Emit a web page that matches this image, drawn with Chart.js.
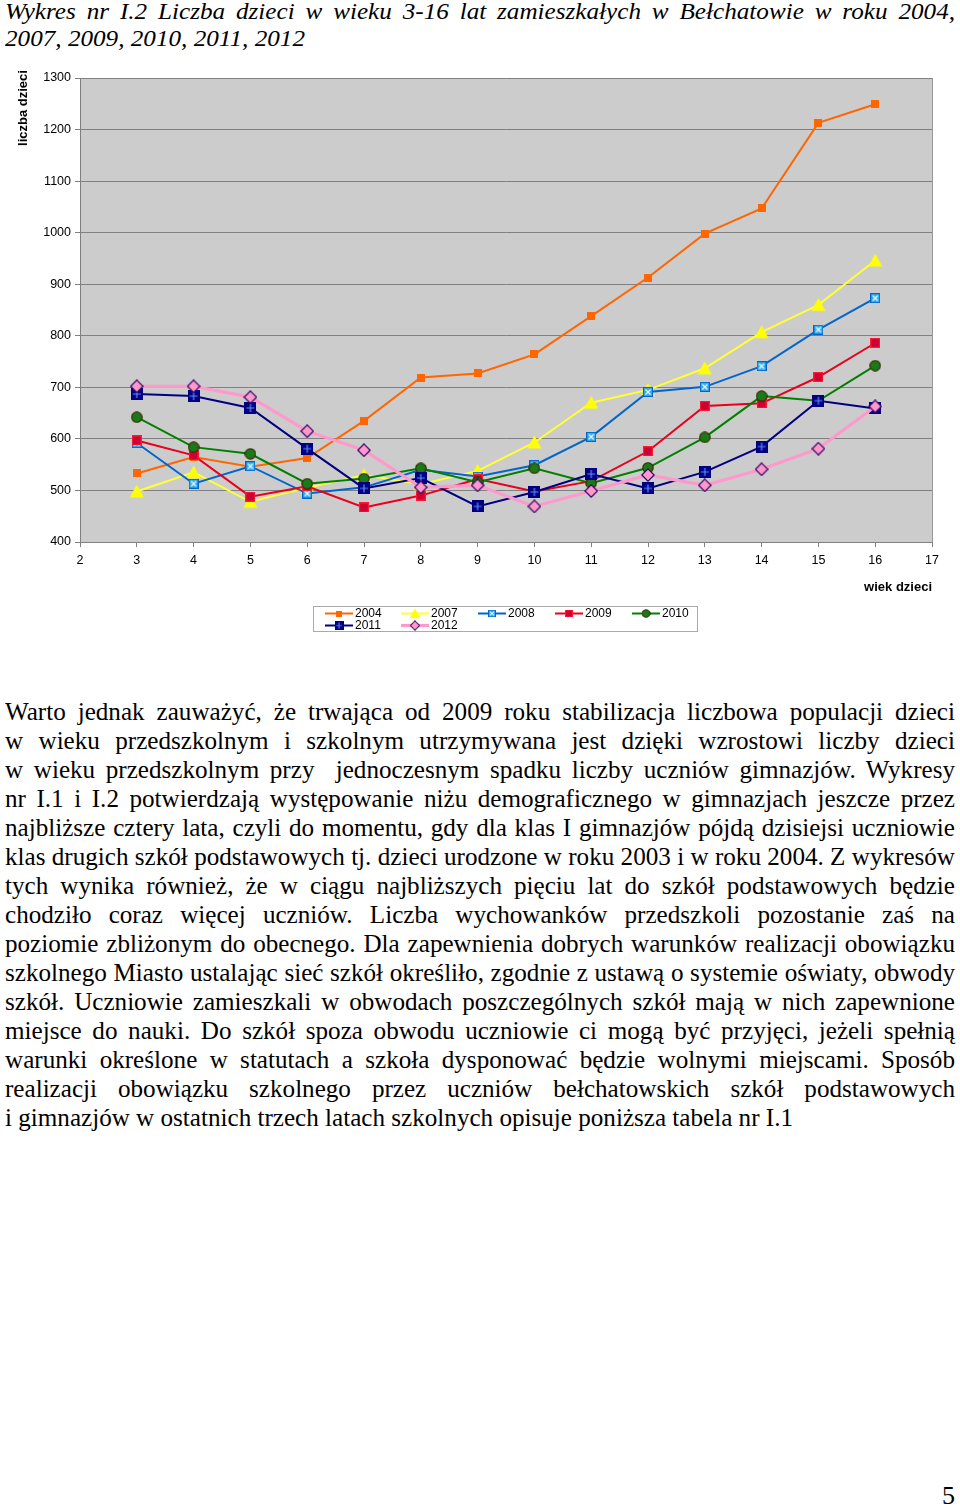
<!DOCTYPE html>
<html>
<head>
<meta charset="utf-8">
<script src="https://cdn.jsdelivr.net/npm/chart.js@4.4.1/dist/chart.umd.min.js"></script>
<style>
html,body{margin:0;padding:0;background:#fff;}
body{width:960px;height:1509px;position:relative;overflow:hidden;}
.ln{position:absolute;left:5px;white-space:nowrap;transform-origin:0 0;font-family:"Liberation Serif","Times New Roman",serif;color:#000;}
.t{font-style:italic;font-size:24px;line-height:27px;}
.p{font-size:26px;line-height:29px;}
#wrap{position:absolute;left:0;top:60px;width:960px;height:590px;}
#pg{position:absolute;right:5px;top:1481px;font-family:"Liberation Serif","Times New Roman",serif;font-size:26px;line-height:29px;}
</style>
</head>
<body>
<div id="title"></div>
<div id="wrap"><canvas id="c" width="960" height="590"></canvas></div>
<div id="para"></div>
<div id="pg">5</div>
<script>
// ---------------- DATA ----------------
const ages = [3,4,5,6,7,8,9,10,11,12,13,14,15,16];
const xTickLabels = [2,3,4,5,6,7,8,9,10,11,12,13,14,15,16,17];
const yTickLabels = [400,500,600,700,800,900,1000,1100,1200,1300];
const seriesNames = ['2004','2007','2008','2009','2010','2011','2012'];
const y2004 = [533,565,546,563,635,719,727,764,838,913,998,1047,1213,1249];
const y2007 = [498,535,478,505,530,512,538,593,670,695,737,807,860,946];
const y2008 = [592,513,547,494,506,540,527,549,604,691,701,741,812,873];
const y2009 = [597,568,488,508,467,490,522,498,518,576,664,669,720,786];
const y2010 = [642,584,571,513,523,543,516,543,514,544,603,683,674,742];
const y2011 = [687,683,660,581,504,524,469,497,532,504,536,585,674,659];
const y2012 = [702,702,681,615,578,506,510,469,499,530,510,541,581,663];
const allSeries = [y2004,y2007,y2008,y2009,y2010,y2011,y2012];
const yTitle = 'liczba dzieci';
const xTitle = 'wiek dzieci';

// ---------------- TEXT ----------------
const titleLines = [
 'Wykres nr I.2 Liczba dzieci w wieku 3-16 lat zamieszkałych w Bełchatowie w roku 2004,',
 '2007, 2009, 2010, 2011, 2012'
];
const paraLines = [
 'Warto jednak zauważyć, że trwająca od 2009 roku stabilizacja liczbowa populacji dzieci',
 'w wieku przedszkolnym i szkolnym utrzymywana jest dzięki wzrostowi liczby dzieci',
 'w wieku przedszkolnym przy  jednoczesnym spadku liczby uczniów gimnazjów. Wykresy',
 'nr I.1 i I.2 potwierdzają występowanie niżu demograficznego w gimnazjach jeszcze przez',
 'najbliższe cztery lata, czyli do momentu, gdy dla klas I gimnazjów pójdą dzisiejsi uczniowie',
 'klas drugich szkół podstawowych tj. dzieci urodzone w roku 2003 i w roku 2004. Z wykresów',
 'tych wynika również, że w ciągu najbliższych pięciu lat do szkół podstawowych będzie',
 'chodziło coraz więcej uczniów. Liczba wychowanków przedszkoli pozostanie zaś na',
 'poziomie zbliżonym do obecnego. Dla zapewnienia dobrych warunków realizacji obowiązku',
 'szkolnego Miasto ustalając sieć szkół określiło, zgodnie z ustawą o systemie oświaty, obwody',
 'szkół. Uczniowie zamieszkali w obwodach poszczególnych szkół mają w nich zapewnione',
 'miejsce do nauki. Do szkół spoza obwodu uczniowie ci mogą być przyjęci, jeżeli spełnią',
 'warunki określone w statutach a szkoła dysponować będzie wolnymi miejscami. Sposób',
 'realizacji obowiązku szkolnego przez uczniów bełchatowskich szkół podstawowych',
 'i gimnazjów w ostatnich trzech latach szkolnych opisuje poniższa tabela nr I.1'
];

function layoutBlock(container, lines, cls, firstTop, step, lastWidth, fullWidth){
  const els = lines.map((txt,i)=>{
    const d = document.createElement('div');
    d.className = 'ln ' + cls;
    d.style.top = (firstTop + i*step) + 'px';
    const s = document.createElement('span');
    s.textContent = txt.replace(/  /g, ' \u00a0');
    d.appendChild(s);
    container.appendChild(d);
    return d;
  });
  const nat = els.map(d=>d.firstChild.getBoundingClientRect().width);
  const last = els.length-1;
  const sc = lastWidth / nat[last];
  els.forEach((d,i)=>{
    if(i===last){ d.style.transform = 'scaleX('+sc+')'; return; }
    const spaces = (lines[i].match(/ /g)||[]).length;
    if(nat[i]*sc <= fullWidth){
      d.style.wordSpacing = ((fullWidth/sc - nat[i]) / spaces) + 'px';
      d.style.transform = 'scaleX('+sc+')';
    } else {
      d.style.transform = 'scaleX('+(fullWidth/nat[i])+')';
    }
  });
}
layoutBlock(document.getElementById('title'), titleLines, 't', -2, 27, 300, 950);
layoutBlock(document.getElementById('para'), paraLines, 'p', 697, 29, 788, 950);

// ---------------- MARKERS ----------------
function mk(size, draw){
  const c = document.createElement('canvas');
  c.width = size; c.height = size;
  draw(c.getContext('2d'), size);
  return c;
}
const markers = [
  mk(8, (g,s)=>{ g.fillStyle='#FF6600'; g.fillRect(0,0,s,s); }),
  mk(15,(g,s)=>{ g.fillStyle='#FFFF00'; g.beginPath(); g.moveTo(7.5,0.5); g.lineTo(14.5,13.5); g.lineTo(0.5,13.5); g.closePath(); g.fill(); }),
  mk(10,(g,s)=>{ g.fillStyle='#33AAEE'; g.fillRect(0,0,s,s); g.strokeStyle='#0066CC'; g.lineWidth=1; g.strokeRect(0.5,0.5,s-1,s-1);
                 g.strokeStyle='#E6FFFF'; g.lineWidth=1.3; g.beginPath(); g.moveTo(2.5,2.5); g.lineTo(7.5,7.5); g.moveTo(7.5,2.5); g.lineTo(2.5,7.5); g.stroke(); }),
  mk(10,(g,s)=>{ g.fillStyle='#CC0033'; g.fillRect(0,0,s,s); g.strokeStyle='#FF1A33'; g.lineWidth=1.2; g.strokeRect(0.6,0.6,s-1.2,s-1.2); }),
  mk(12,(g,s)=>{ g.fillStyle='#1A7A1A'; g.strokeStyle='#3D2B00'; g.lineWidth=1.2; g.beginPath(); g.arc(6,6,5.2,0,Math.PI*2); g.fill(); g.stroke(); }),
  mk(12,(g,s)=>{ g.fillStyle='#000080'; g.fillRect(0,0,s,s); g.strokeStyle='#5B8CFF'; g.lineWidth=1.2; g.beginPath(); g.moveTo(6,2); g.lineTo(6,10); g.moveTo(2,6); g.lineTo(10,6); g.stroke(); }),
  mk(14,(g,s)=>{ g.fillStyle='#FF99CC'; g.strokeStyle='#330066'; g.lineWidth=1.2; g.beginPath(); g.moveTo(7,0.8); g.lineTo(13.2,7); g.lineTo(7,13.2); g.lineTo(0.8,7); g.closePath(); g.fill(); g.stroke(); })
];
const lineColors = ['#FF6600','#FFFF33','#0066CC','#E8001C','#008000','#000080','#FF99CC'];
const lineWidths = [2,2,2,2,2,2,3.2];

const datasets = allSeries.map((vals,i)=>({
  label: seriesNames[i],
  data: ages.map((a,k)=>({x:a, y:vals[k]})),
  borderColor: lineColors[i],
  backgroundColor: lineColors[i],
  borderWidth: lineWidths[i],
  tension: 0,
  pointStyle: markers[i],
  pointRadius: 5,
  pointHoverRadius: 5,
  order: 6 - i
}));

const FONT = '"Liberation Sans", Arial, sans-serif';

const decor = {
  id:'decor',
  beforeDraw(chart){
    const {ctx, chartArea:a} = chart;
    ctx.save();
    ctx.fillStyle = '#CCCCCC';
    ctx.fillRect(a.left, a.top, a.right-a.left, a.bottom-a.top);
    ctx.restore();
  },
  afterDraw(chart){
    const {ctx, chartArea:a} = chart;
    ctx.save();
    ctx.strokeStyle = '#999999'; ctx.lineWidth = 1;
    ctx.beginPath();
    ctx.moveTo(Math.round(a.right)+0.5, a.top); ctx.lineTo(Math.round(a.right)+0.5, a.bottom);
    ctx.stroke();
    // axis titles
    ctx.fillStyle = '#000';
    ctx.font = 'bold 13px ' + FONT;
    ctx.textAlign = 'center'; ctx.textBaseline = 'middle';
    ctx.save(); ctx.translate(23, 48); ctx.rotate(-Math.PI/2); ctx.fillText(yTitle, 0, 0); ctx.restore();
    ctx.textAlign = 'right';
    ctx.fillText(xTitle, 932, 527);
    // legend
    ctx.strokeStyle = '#AAAAAA'; ctx.lineWidth = 1;
    ctx.strokeRect(313.5, 546.5, 384, 25);
    const pos = [[325,553.5],[401,553.5],[478,553.5],[555,553.5],[632,553.5],[325,565.5],[401,565.5]];
    ctx.font = '12px ' + FONT; ctx.textAlign = 'left'; ctx.textBaseline = 'middle';
    pos.forEach(([x,y],i)=>{
      ctx.strokeStyle = lineColors[i]; ctx.lineWidth = lineWidths[i];
      ctx.beginPath(); ctx.moveTo(x, y); ctx.lineTo(x+28, y); ctx.stroke();
      const m = markers[i]; const f = 0.75;
      ctx.drawImage(m, x+14 - m.width*f/2, y - m.height*f/2, m.width*f, m.height*f);
      ctx.fillStyle = '#000';
      ctx.fillText(seriesNames[i], x+30, y+0.5);
    });
    ctx.restore();
  }
};

new Chart(document.getElementById('c'), {
  type:'line',
  data:{datasets},
  options:{
    responsive:false,
    animation:false,
    devicePixelRatio:1,
    layout:{padding:{left:0,right:28,top:18,bottom:78}},
    plugins:{legend:{display:false}, tooltip:{enabled:false}},
    scales:{
      x:{
        type:'linear', min:xTickLabels[0], max:xTickLabels[xTickLabels.length-1],
        afterBuildTicks(s){ s.ticks = xTickLabels.map(v=>({value:v})); },
        ticks:{font:{family:FONT,size:12.5}, color:'#000', padding:6, autoSkip:false, maxRotation:0, callback:v=>String(v)},
        grid:{drawOnChartArea:false, drawTicks:true, tickLength:5, color:'#808080'},
        border:{color:'#808080'},
        afterFit(s){ s.height = 30; s.paddingLeft = 0; s.paddingRight = 0; }
      },
      y:{
        type:'linear', min:yTickLabels[0], max:yTickLabels[yTickLabels.length-1],
        afterBuildTicks(s){ s.ticks = yTickLabels.map(v=>({value:v})); },
        ticks:{font:{family:FONT,size:12.5}, color:'#000', padding:4, callback:v=>String(v)},
        grid:{color:'#808080', tickLength:5},
        border:{color:'#808080'},
        afterFit(s){ s.width = 80; s.paddingTop = 0; s.paddingBottom = 0; }
      }
    }
  },
  plugins:[decor]
});
</script>
</body>
</html>
